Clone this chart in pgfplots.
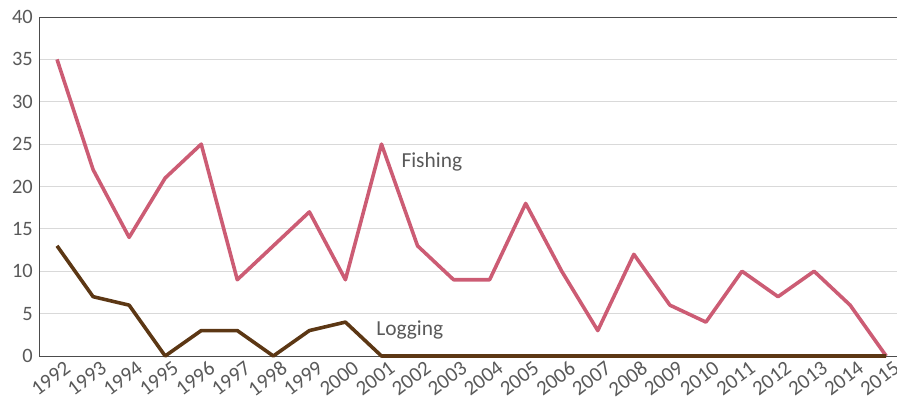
\documentclass[border=0pt]{standalone}
\usepackage{fontspec}
\setmainfont{Carlito}
\usepackage{pgfplots}
\pgfplotsset{compat=1.18}

\definecolor{fishc}{HTML}{CC5C74}
\definecolor{logc}{HTML}{5C3714}
\definecolor{txt}{HTML}{595959}
\definecolor{grd}{HTML}{D9D9D9}

\begin{document}
\begin{tikzpicture}
\begin{axis}[
    name=ax,
    scale only axis,
    width=858bp, height=339bp,
    xmin=1991.5, xmax=2015.3,
    ymin=0, ymax=40,
    ytick={0,5,...,40},
    xtick={1992,...,2015},
    axis x line*=bottom,
    axis y line*=left,
    axis line style={draw=black!70, line width=0.9pt, -},
    major tick length=0pt,
    ymajorgrids,
    grid style={grd, line width=0.9pt},
    tick label style={text=txt},
    y tick label style={font=\fontsize{20.5}{20.5}\selectfont, inner sep=0pt, xshift=-6bp},
    /pgf/number format/assume math mode=true,
    /pgf/number format/1000 sep={},
    x tick label style={font=\fontsize{21}{21}\selectfont, rotate=37, anchor=north east, inner sep=0pt, xshift=3bp, yshift=-7bp},
    clip=false,
]
\addplot[fishc, line width=3.6pt, line join=round] coordinates {
(1992,35) (1993,22) (1994,14) (1995,21) (1996,25) (1997,9) (1998,13) (1999,17)
(2000,9) (2001,25) (2002,13) (2003,9) (2004,9) (2005,18) (2006,10) (2007,3)
(2008,12) (2009,6) (2010,4) (2011,10) (2012,7) (2013,10) (2014,6) (2015,0)};
\addplot[logc, line width=3.6pt, line join=round] coordinates {
(1992,13) (1993,7) (1994,6) (1995,0) (1996,3) (1997,3) (1998,0) (1999,3)
(2000,4) (2001,0) (2002,0) (2003,0) (2004,0) (2005,0) (2006,0) (2007,0)
(2008,0) (2009,0) (2010,0) (2011,0) (2012,0) (2013,0) (2014,0) (2015,0)};
\draw[black!70, line width=0.9pt] (axis cs:1991.5,40) -- (axis cs:2015.3,40);
\node[anchor=west, text=txt, font=\fontsize{21.5}{21.5}\selectfont, inner sep=0pt] at (axis cs:2001.55,22.9) {Fishing};
\node[anchor=west, text=txt, font=\fontsize{21.5}{21.5}\selectfont, inner sep=0pt] at (axis cs:2000.85,3.1) {Logging};
\end{axis}
\pgfresetboundingbox
\path[use as bounding box] ([xshift=-39bp,yshift=-46bp]ax.south west) rectangle ([yshift=17bp]ax.north east);
\end{tikzpicture}
\end{document}
